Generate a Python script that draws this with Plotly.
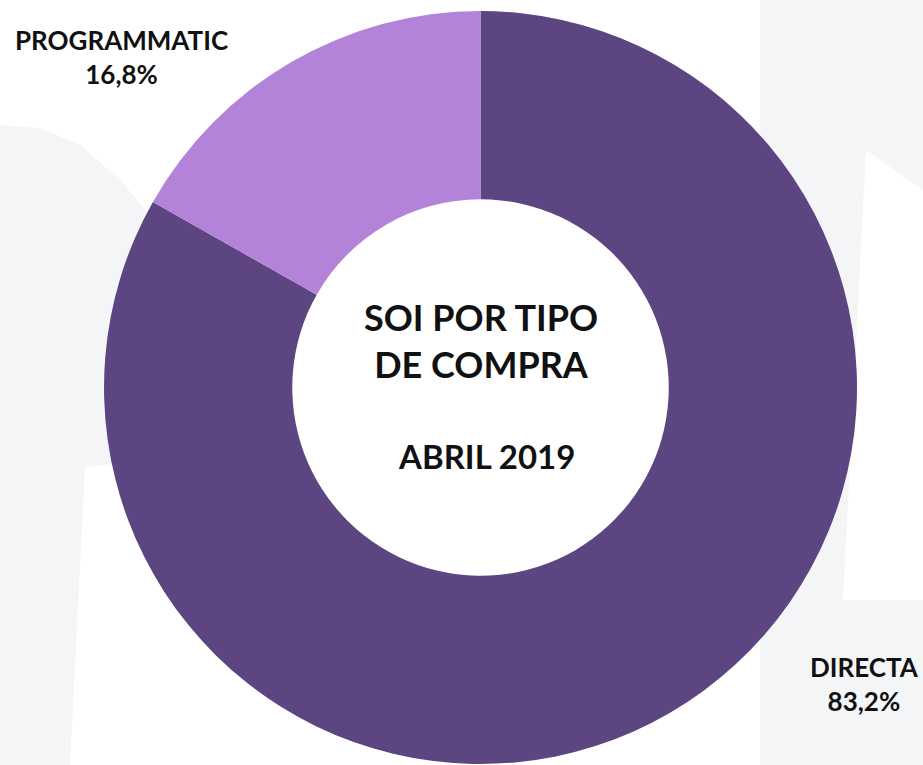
import plotly.graph_objects as go

labels = ["DIRECTA", "PROGRAMMATIC"]
values = [83.2, 16.8]
colors = ["#5C4580", "#B383D9"]
center_title = ["SOI POR TIPO", "DE COMPRA"]
center_sub = "ABRIL 2019"

W, H = 923, 765
FONT = "Lato"
BG_GREY = "#F4F5F7"

fig = go.Figure()

fig.add_trace(go.Pie(
    labels=labels,
    values=values,
    hole=0.5,
    sort=False,
    direction="clockwise",
    rotation=0,
    marker=dict(colors=colors, line=dict(width=0)),
    textinfo="none",
    hoverinfo="label+percent",
    showlegend=False,
    domain=dict(x=[0.1127, 0.9285], y=[0.0013, 0.9856]),
))

def fmt(v):
    return f"{v:.1f}%".replace(".", ",")

def px(x, y):
    return x / W, 1 - y / H

label_pos = {"PROGRAMMATIC": (121, 57), "DIRECTA": (864, 684)}
annotations = []
for lab, val in zip(labels, values):
    ax, ay = px(*label_pos[lab])
    annotations.append(dict(
        x=ax, y=ay, xref="paper", yref="paper",
        xanchor="center", yanchor="middle",
        text=f"<b>{lab}</b><br><b>{fmt(val)}</b>",
        showarrow=False, align="center",
        font=dict(family=FONT, size=26, color="#111111"),
    ))

ax, ay = px(481, 340)
annotations.append(dict(
    x=ax, y=ay, xref="paper", yref="paper",
    xanchor="center", yanchor="middle",
    text="<b>" + "<br>".join(center_title) + "</b>",
    showarrow=False, align="center",
    font=dict(family=FONT, size=36, color="#111111"),
))
ax, ay = px(486, 456)
annotations.append(dict(
    x=ax, y=ay, xref="paper", yref="paper",
    xanchor="center", yanchor="middle",
    text=f"<b>{center_sub}</b>",
    showarrow=False, align="center",
    font=dict(family=FONT, size=33, color="#111111"),
))

def path(points):
    pts = [px(x, y) for x, y in points]
    return "M " + " L ".join(f"{x:.4f},{y:.4f}" for x, y in pts) + " Z"

left_bg = [(0, 125), (40, 128), (80, 145), (120, 180), (150, 215), (150, 460),
           (85, 467), (70, 765), (0, 765)]
right_bg = [(800, 0), (923, 0), (923, 190), (866, 150), (843, 600), (923, 600),
            (923, 765), (760, 765), (760, 0)]

shapes = [
    dict(type="path", xref="paper", yref="paper", layer="below",
         path=path(left_bg), fillcolor=BG_GREY, line=dict(width=0)),
    dict(type="path", xref="paper", yref="paper", layer="below",
         path=path(right_bg), fillcolor=BG_GREY, line=dict(width=0)),
]

fig.update_layout(
    width=W, height=H,
    margin=dict(l=0, r=0, t=0, b=0),
    paper_bgcolor="white",
    plot_bgcolor="white",
    annotations=annotations,
    shapes=shapes,
)

fig.write_html("out.html", config={"displayModeBar": False},
               post_script="document.body.style.margin='0';")
